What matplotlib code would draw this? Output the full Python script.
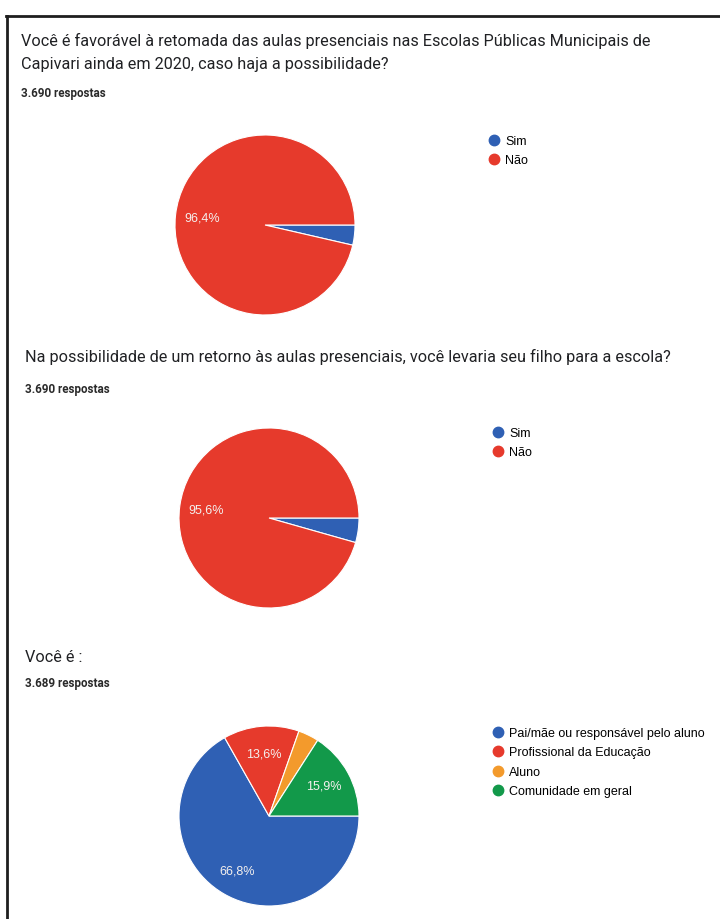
import matplotlib
matplotlib.use('Agg')
import matplotlib.pyplot as plt
from matplotlib.lines import Line2D

W, H = 720, 920

# question 1
q1_title = ['Você é favorável à retomada das aulas presenciais nas Escolas Públicas Municipais de',
            'Capivari ainda em 2020, caso haja a possibilidade?']
q1_count = '3.690 respostas'
q1_labels = ['Sim', 'Não']
q1_values = [3.6, 96.4]

# question 2
q2_title = ['Na possibilidade de um retorno às aulas presenciais, você levaria seu filho para a escola?']
q2_count = '3.690 respostas'
q2_labels = ['Sim', 'Não']
q2_values = [4.4, 95.6]

# question 3
q3_title = ['Você é :']
q3_count = '3.689 respostas'
q3_labels = ['Pai/mãe ou responsável pelo aluno', 'Profissional da Educação', 'Aluno', 'Comunidade em geral']
q3_values = [66.8, 13.6, 3.7, 15.9]

blue, red, orange, green = '#2f60b4', '#e63a2c', '#f39a2c', '#12994a'
q12_colors = [blue, red]
q3_colors = [blue, red, orange, green]

fig = plt.figure(figsize=(W / 100, H / 100), dpi=100)
fig.patch.set_facecolor('white')


def px(x, y):                      # pixel (from top-left) -> figure fraction
    return x / W, 1 - y / H


def pct_fmt(p):
    # only label slices big enough, google forms style with comma
    if p < 5:
        return ''
    return ('%.1f%%' % p).replace('.', ',')


def draw_block(title, count, labels, values, colors, tx, ty, cy_count, cx, cy, lx, ly):

    for k, line in enumerate(title):
        fig.text(*px(tx, ty + k * 23.5), line, fontsize=11.7, family='Roboto',
                 color='#202124', va='center', ha='left')
    fig.text(*px(tx, cy_count), count, fontsize=8.4, family='Roboto',
             weight='bold', color='#2a2a2a', va='center', ha='left')

    r = 90
    ax = fig.add_axes([(cx - r) / W, 1 - (cy + r) / H, 2 * r / W, 2 * r / H])
    wedges, texts, autotexts = ax.pie(values, colors=colors, startangle=0, counterclock=False,
                                      autopct=pct_fmt, pctdistance=0.7,
                                      wedgeprops=dict(edgecolor='white', linewidth=0.8),
                                      textprops=dict(color='#f4f0ee', fontsize=9,
                                                     family='Liberation Sans'))
    ax.set_xlim(-1, 1)
    ax.set_ylim(-1, 1)
    ax.set_aspect('equal')

    handles = [Line2D([], [], marker='o', linestyle='', markersize=7.5,
                      markerfacecolor=c, markeredgecolor=c) for c in colors]
    fig.legend(handles, labels, loc='upper left', bbox_to_anchor=px(lx, ly),
               frameon=False, handlelength=0.7, handletextpad=0.5,
               labelspacing=0.6, borderpad=0, borderaxespad=0,
               prop=dict(family='Liberation Sans', size=9))


draw_block(q1_title, q1_count, q1_labels, q1_values, q12_colors, 21, 41, 93, 265, 226, 490, 136)
draw_block(q2_title, q2_count, q2_labels, q2_values, q12_colors, 25, 357, 390, 269, 519, 494, 428)
draw_block(q3_title, q3_count, q3_labels, q3_values, q3_colors, 25, 657, 684, 269, 817, 494, 728)

# frame lines of the screenshot
fig.add_artist(Line2D([6 / W, 1], [1 - 17 / H, 1 - 17 / H], color='#1e1e1e', linewidth=2,
                      transform=fig.transFigure))
fig.add_artist(Line2D([7 / W, 7 / W], [1 - 17 / H, 0], color='#1e1e1e', linewidth=2,
                      transform=fig.transFigure))

fig.savefig('out.png', dpi=100, facecolor='white')
